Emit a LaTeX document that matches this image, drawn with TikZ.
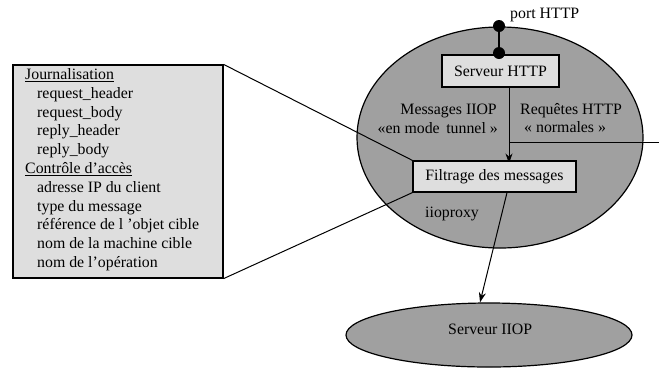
\documentclass[tikz,border=0pt]{standalone}
\usepackage{fontspec}
\setmainfont{Liberation Serif}
\usetikzlibrary{arrows.meta,calc,shapes.geometric}
\definecolor{elgray}{RGB}{160,160,160}
\definecolor{boxgray}{RGB}{222,222,222}
\pgfdeclarelayer{back}
\pgfdeclarelayer{mid}
\pgfsetlayers{back,mid,main}
\begin{document}
\begin{tikzpicture}[x=1bp,y=-1bp,
  font=\fontsize{15.9}{18}\selectfont,
  boxnode/.style={draw, line width=1.2bp, fill=boxgray, inner sep=0pt},
  ellnode/.style={draw, ellipse, fill=elgray, line width=1.2bp, inner sep=0pt},
  dotnode/.style={circle, fill=black, inner sep=0pt, minimum size=12bp},
  lbl/.style={inner sep=0pt, anchor=base west},
  lblr/.style={inner sep=0pt, anchor=base east},
  conn/.style={line width=1bp},
  arr/.style={line width=1bp, -{Stealth[length=10bp,width=7bp]}}]
\useasboundingbox (0,0) rectangle (659,367);

\begin{pgfonlayer}{back}
\node[ellnode, minimum width=286bp, minimum height=221bp] (proxy) at (500,137.5) {};
\node[ellnode, minimum width=286bp, minimum height=64bp] (iiop) at (489,335) {};
\end{pgfonlayer}

% boxes
\node[boxnode, minimum width=117bp, minimum height=32bp] (http) at (500.5,71) {Serveur HTTP};
\node[boxnode, minimum width=163bp, minimum height=31bp] (filt) at (494.5,176.5) {Filtrage des messages};
\node[boxnode, minimum width=210bp, minimum height=213bp] (jbox) at (118,171.5) {};

% port dots
\node[dotnode] (port) at (499,26) {};
\node[dotnode] (pin) at (499,53) {};

% labels
\node[lbl] (lport) at (510,18) {port HTTP};
\node[lblr] (lmsg1) at (497,114.5) {Messages IIOP};
\node[lblr] (lmsg2) at (498,133) {«en mode\, tunnel »};
\node[lbl] (lreq1) at (520,114.5) {Requêtes HTTP};
\node[lbl] (lreq2) at (524,132.5) {« normales »};
\node[lbl] (lproxy) at (425,217) {iioproxy};
\node[lbl] (liiop) at (448,334) {Serveur IIOP};

% left box text
\node[lbl] (t0) at (25,79.5) {\underline{Journalisation}};
\node[lbl] (t1) at (37,98.3) {request\_header};
\node[lbl] (t2) at (37,117.1) {request\_body};
\node[lbl] (t3) at (37,135.9) {reply\_header};
\node[lbl] (t4) at (37,154.7) {reply\_body};
\node[lbl] (t5) at (25,173.5) {\underline{Contrôle d’accès}};
\node[lbl] (t6) at (37,192.3) {adresse IP du client};
\node[lbl] (t7) at (37,211.1) {type du message};
\node[lbl] (t8) at (37,229.9) {référence de l ’objet cible};
\node[lbl] (t9) at (37,248.7) {nom de la machine cible};
\node[lbl] (t10) at (37,267.5) {nom de l’opération};

% helper coordinates
\coordinate (vx) at (509,0);
\coordinate (hy) at (0,142);
\coordinate (rightend) at (659,142);
\coordinate (fx) at (507,0);

\begin{pgfonlayer}{mid}
\draw[line width=1.5bp] (port) -- (pin);
\draw[arr] (http.south -| vx) -- ($(filt.north -| vx)+(0,3)$);
\draw[conn] (vx |- hy) -- (rightend);
\draw[arr] (filt.south -| fx) -- ($(iiop.north)+(-9,0)$);
\draw[conn] (jbox.north east) -- (filt.north west);
\draw[conn] (jbox.south east) -- (filt.south west);
\end{pgfonlayer}
\end{tikzpicture}
\end{document}
